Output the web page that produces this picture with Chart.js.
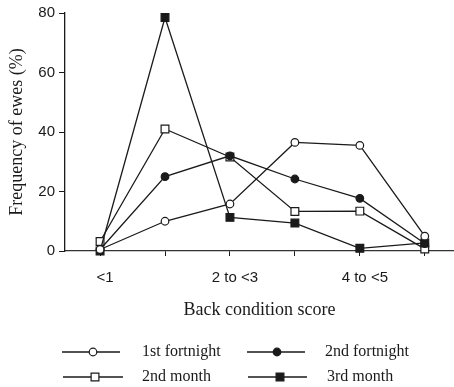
<!DOCTYPE html>
<html>
<head>
<meta charset="utf-8">
<script src="https://cdn.jsdelivr.net/npm/chart.js@4/dist/chart.umd.min.js"></script>
<style>
  html, body { margin: 0; padding: 0; background: #fff; }
  #wrap { width: 454px; height: 387px; position: relative; }
</style>
</head>
<body>
<div id="wrap"><canvas id="line_chart"></canvas></div>
<script>
// data
var categories = ["<1", "1 to <2", "2 to <3", "3 to <4", "4 to <5", "\u22655"];
var firstFortnight = [0.5, 10, 15.8, 36.5, 35.5, 5];
var secondFortnight = [0.5, 25, 32, 24.2, 17.7, 2.5];
var secondMonth = [3.2, 41, 31.6, 13.3, 13.4, 0.7];
var thirdMonth = [0, 78.5, 11.3, 9.4, 0.9, 2.7];
var yTicks = [0, 20, 40, 60, 80];

var ink = '#1a1a1a';

function toPoints(arr) {
  return arr.map(function(v, i){ return {x: i, y: v}; });
}

function series(label, values, style, filled, radius) {
  return {
    label: label,
    data: toPoints(values),
    borderColor: ink,
    borderWidth: 1.3,
    pointStyle: style,
    pointRadius: radius,
    pointBorderWidth: 1.2,
    pointBorderColor: ink,
    pointBackgroundColor: filled ? ink : '#fff',
    fill: false,
    clip: false,
    tension: 0
  };
}

var lineData = {
  datasets: [
    series("1st fortnight", firstFortnight, 'circle', false, 3.8),
    series("2nd fortnight", secondFortnight, 'circle', true, 3.8),
    series("3rd month", thirdMonth, 'rect', true, 5.5),
    series("2nd month", secondMonth, 'rect', false, 5.5)
  ]
};

// legend drawn by hand: two columns, line with the marker in the middle
var legendSlots = {
  "1st fortnight": {x0: 62, x1: 120, mx: 93, tx: 142, y: 352},
  "2nd fortnight": {x0: 247, x1: 305, mx: 277, tx: 325, y: 352},
  "2nd month": {x0: 63, x1: 123, mx: 95, tx: 142, y: 377},
  "3rd month": {x0: 248, x1: 307, mx: 280, tx: 327, y: 377}
};

var figLegend = {
  id: 'figLegend',
  afterDraw: function(chart) {
    var ctx = chart.ctx;
    ctx.save();
    chart.data.datasets.forEach(function(ds) {
      var s = legendSlots[ds.label];
      ctx.strokeStyle = ink;
      ctx.lineWidth = 1.3;
      ctx.beginPath();
      ctx.moveTo(s.x0, s.y);
      ctx.lineTo(s.x1, s.y);
      ctx.stroke();
      ctx.fillStyle = ds.pointBackgroundColor;
      ctx.lineWidth = ds.pointBorderWidth;
      Chart.helpers.drawPoint(ctx, {pointStyle: ds.pointStyle, radius: ds.pointRadius, rotation: 0, borderWidth: ds.pointBorderWidth}, s.mx, s.y);
      ctx.fillStyle = ink;
      ctx.font = '16px "Liberation Serif", serif';
      ctx.textBaseline = 'middle';
      ctx.textAlign = 'left';
      ctx.fillText(ds.label, s.tx, s.y);
    });
    ctx.restore();
  }
};

var lineOptions = {
  responsive: true,
  maintainAspectRatio: false,
  animation: false,
  layout: { autoPadding: false, padding: { top: 13, right: 0, bottom: 64, left: 0 } },
  plugins: { legend: { display: false }, tooltip: { enabled: false } },
  scales: {
    x: {
      type: 'linear',
      min: -0.54,
      max: 5.45,
      afterBuildTicks: function(scale) {
        scale.ticks = categories.map(function(c, i){ return {value: i}; });
      },
      afterFit: function(scale) {
        scale.height = 72;
        scale.paddingLeft = 0;
        scale.paddingRight = 0;
      },
      grid: { drawOnChartArea: false, drawTicks: true, tickLength: 5, color: ink },
      border: { display: true, color: '#333', width: 1.3 },
      ticks: {
        color: ink,
        padding: 13,
        labelOffset: 5,
        maxRotation: 0,
        autoSkip: false,
        font: { family: '"Liberation Sans", Arial, sans-serif', size: 15 },
        callback: function(v) { return (v % 2 === 0) ? categories[v] : ''; }
      },
      title: {
        display: true,
        text: 'Back condition score',
        color: ink,
        padding: { top: 0, bottom: 2 },
        font: { family: '"Liberation Serif", serif', size: 18 }
      }
    },
    y: {
      min: 0,
      max: 80,
      afterBuildTicks: function(scale) {
        scale.ticks = yTicks.map(function(v){ return {value: v}; });
      },
      afterFit: function(scale) {
        scale.width = 65;
        scale.paddingTop = 0;
        scale.paddingBottom = 0;
      },
      grid: { drawOnChartArea: false, drawTicks: true, tickLength: 6, color: ink },
      border: { display: true, color: ink, width: 1.3 },
      ticks: {
        color: ink,
        padding: 4,
        font: { family: '"Liberation Sans", Arial, sans-serif', size: 15 }
      },
      title: {
        display: true,
        text: 'Frequency of ewes (%)',
        color: ink,
        padding: { top: 6, bottom: 0 },
        font: { family: '"Liberation Serif", serif', size: 18 }
      }
    }
  }
};

var ctx = document.getElementById("line_chart").getContext("2d");
new Chart(ctx, {type: 'line', data: lineData, options: lineOptions, plugins: [figLegend]});
</script>
</body>
</html>
